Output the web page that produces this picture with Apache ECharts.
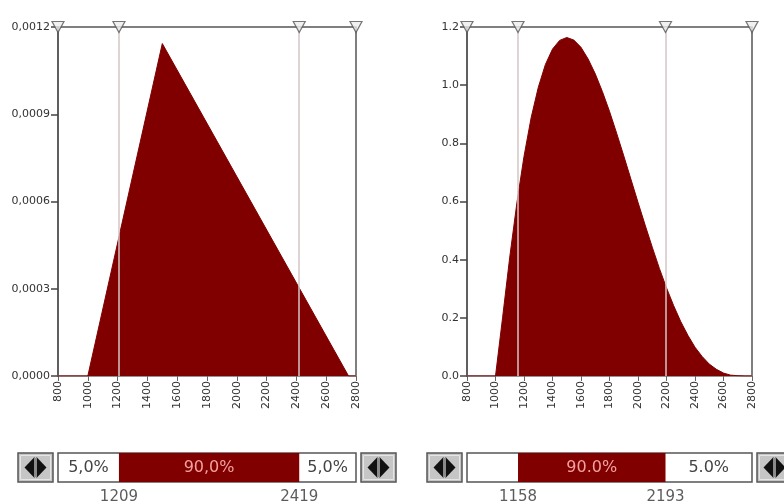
<!DOCTYPE html>
<html>
<head>
<meta charset="utf-8">
<script src="https://cdn.jsdelivr.net/npm/echarts@6/dist/echarts.min.js"></script>
<style>
  html, body { margin: 0; padding: 0; background: #fff; }
  #chart { width: 784px; height: 502px; }
</style>
</head>
<body>
<div id="chart"></div>
<script>
// Shared x range: [min, max, step]
const xRange = [800, 2800, 200];

// Triangular fit (min 1000, mode 1500, max 2750)
const triX = [800, 1000, 1500, 2750, 2800];
const triY = [0, 0, 0.001143, 0, 0];
const triYRange = [0, 0.0012, 0.0003];
const triPct = [1209, 2419];
const triBands = ['5,0%', '90,0%', '5,0%'];

// Pert fit, density in units of 10^-3
const pertX = [800, 1000, 1050, 1100, 1150, 1200, 1250, 1300, 1350, 1400, 1450, 1500,
  1550, 1600, 1650, 1700, 1750, 1800, 1850, 1900, 1950, 2000, 2050, 2100, 2150, 2200,
  2250, 2300, 2350, 2400, 2450, 2500, 2550, 2600, 2650, 2700, 2750, 2800];
const pertY = [0, 0, 0.202, 0.409, 0.595, 0.755, 0.888, 0.992, 1.071, 1.124, 1.154, 1.164,
  1.155, 1.130, 1.090, 1.039, 0.978, 0.910, 0.835, 0.757, 0.677, 0.597, 0.519, 0.443, 0.370, 0.303,
  0.242, 0.187, 0.140, 0.099, 0.067, 0.041, 0.023, 0.010, 0.003, 0.001, 0, 0];
const pertYRange = [0, 1.2, 0.2];
const pertPct = [1158, 2193];
const pertBands = ['', '90.0%', '5.0%'];

const FONT = '"DejaVu Sans", sans-serif';
const RED = '#800000';

const panels = [
  { left: 58, width: 298, xs: triX, ys: triY, yr: triYRange, pct: triPct, bands: triBands,
    fmt: v => v.toFixed(4).replace('.', ',') },
  { left: 467, width: 285, xs: pertX, ys: pertY, yr: pertYRange, pct: pertPct, bands: pertBands,
    fmt: v => v.toFixed(1) }
];

const PLOT_TOP = 27, PLOT_H = 349;
const BAR_TOP = 453, BAR_H = 29;

const grid = [], xAxis = [], yAxis = [], series = [], graphic = [];

function button(x, y, w, h) {
  const c = w / 2;
  return {
    type: 'group', x: x, y: y, z: 20,
    children: [
      { type: 'rect', shape: { x: 0, y: 0, width: w, height: h },
        style: { fill: '#c6c6c6', stroke: '#555', lineWidth: 1.5 } },
      { type: 'rect', shape: { x: 2.5, y: 2.5, width: w - 5, height: h - 5 },
        style: { fill: 'none', stroke: '#e6e6e6', lineWidth: 1 } },
      { type: 'polygon', shape: { points: [[c - 1, 4], [c - 11, h / 2], [c - 1, h - 4]] },
        style: { fill: '#111' } },
      { type: 'polygon', shape: { points: [[c + 1, 4], [c + 11, h / 2], [c + 1, h - 4]] },
        style: { fill: '#111' } },
      { type: 'rect', shape: { x: c - 1.5, y: 5, width: 3, height: h - 10 },
        style: { fill: '#8a8a8a' } }
    ]
  };
}

panels.forEach((p, i) => {
  const gMain = i * 2, gBar = i * 2 + 1;

  grid.push({ left: p.left, top: PLOT_TOP, width: p.width, height: PLOT_H, show: true,
    borderColor: '#555', borderWidth: 1.5, backgroundColor: '#fff' });
  grid.push({ left: p.left, top: BAR_TOP, width: p.width, height: BAR_H, show: true,
    borderColor: '#555', borderWidth: 1.5, backgroundColor: '#fff' });

  xAxis.push({
    type: 'value', gridIndex: gMain, min: xRange[0], max: xRange[1], interval: xRange[2],
    splitLine: { show: false },
    axisLine: { show: true, onZero: false, lineStyle: { color: '#999', width: 1.5 } },
    axisTick: { show: true, length: 5, lineStyle: { color: '#666', width: 1 } },
    axisLabel: { rotate: 90, fontSize: 11, color: '#333', margin: 5, fontFamily: FONT,
      formatter: v => String(v) }
  });
  xAxis.push({ type: 'value', gridIndex: gBar, min: xRange[0], max: xRange[1], show: false });

  yAxis.push({
    type: 'value', gridIndex: gMain, min: p.yr[0], max: p.yr[1], interval: p.yr[2],
    splitLine: { show: false },
    axisLine: { show: true, lineStyle: { color: '#555', width: 1.5 } },
    axisTick: { show: true, length: 7, lineStyle: { color: '#444', width: 1.5 } },
    axisLabel: { fontSize: 11, color: '#333', margin: 8, fontFamily: FONT, formatter: p.fmt }
  });
  yAxis.push({ type: 'value', gridIndex: gBar, min: 0, max: 1, show: false });

  // density area with percentile guide lines
  series.push({
    type: 'line', xAxisIndex: gMain, yAxisIndex: gMain,
    data: p.xs.map((x, k) => [x, p.ys[k]]),
    symbol: 'none', smooth: false,
    lineStyle: { color: RED, width: 1 },
    areaStyle: { color: RED, opacity: 1 },
    silent: true,
    markLine: {
      silent: true, symbol: 'none', label: { show: false },
      lineStyle: { color: '#d4c6c6', width: 1.5, type: 'solid' },
      data: p.pct.map(v => ({ xAxis: v }))
    }
  });

  // slider markers along the top edge
  const markerXs = [xRange[0], p.pct[0], p.pct[1], xRange[1]];
  series.push({
    type: 'scatter', xAxisIndex: gMain, yAxisIndex: gMain, clip: false, silent: true, z: 10,
    data: markerXs.map(x => [x, p.yr[1]]),
    symbol: 'path://M0,0 L12,0 L6,10 Z', symbolSize: [12, 11], symbolOffset: [0, 0],
    itemStyle: { color: '#eeeeee', borderColor: '#555', borderWidth: 1.2 }
  });

  // probability band bar
  const edges = [xRange[0], p.pct[0], p.pct[1], xRange[1]];
  series.push({
    type: 'line', xAxisIndex: gBar, yAxisIndex: gBar, data: [[xRange[0], 0.5]],
    symbol: 'none', lineStyle: { opacity: 0 }, silent: true,
    markArea: {
      silent: true,
      data: p.bands.map((t, k) => [
        { xAxis: edges[k],
          itemStyle: { color: k === 1 ? RED : 'rgba(0,0,0,0)' },
          label: { show: true, position: 'inside', formatter: t, fontFamily: FONT, fontSize: 16,
            color: k === 1 ? '#f2a0a0' : '#444' } },
        { xAxis: edges[k + 1] }
      ])
    }
  });

  // percentile values under the bar
  series.push({
    type: 'scatter', xAxisIndex: gBar, yAxisIndex: gBar, clip: false, silent: true,
    data: p.pct.map(v => [v, 0]),
    symbolSize: 1, itemStyle: { color: 'rgba(0,0,0,0)' },
    label: { show: true, position: 'bottom', distance: 7, fontFamily: FONT, fontSize: 15,
      color: '#333', formatter: d => String(d.value[0]) }
  });

  const bw = 35, gap = 5;
  graphic.push(button(p.left - gap - bw, BAR_TOP, bw, BAR_H));
  graphic.push(button(p.left + p.width + gap, BAR_TOP, bw, BAR_H));
});

const chart = echarts.init(document.getElementById('chart'), null, { renderer: 'canvas' });
chart.setOption({
  animation: false,
  backgroundColor: '#fff',
  textStyle: { fontFamily: FONT },
  grid: grid, xAxis: xAxis, yAxis: yAxis, series: series, graphic: graphic
});
</script>
</body>
</html>
